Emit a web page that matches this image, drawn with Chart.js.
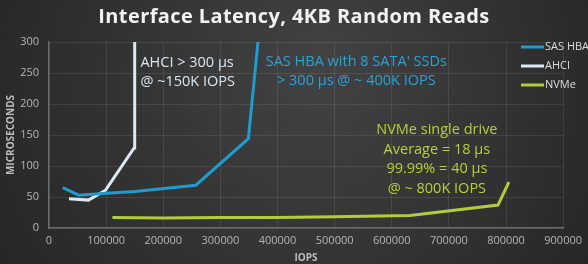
<!DOCTYPE html>
<html><head><meta charset="utf-8">
<script src="https://cdn.jsdelivr.net/npm/chart.js@4/dist/chart.umd.min.js"></script>
<style>html,body{margin:0;padding:0;background:#2c2c2c}#c{display:block}</style>
</head><body>
<canvas id="c" width="588" height="264"></canvas>
<script>
const titleText = "Interface Latency, 4KB Random Reads";
const seriesNames = ["SAS HBA", "AHCI", "NVMe"];
const sasIops = [24000, 52000, 100000, 150000, 257000, 349000, 368000];
const sasLatency = [65, 53, 56, 59, 69, 144, 320];
const ahciIops = [35000, 69000, 99000, 149000, 150000];
const ahciLatency = [47, 45, 61, 129, 320];
const nvmeIops = [111000, 200000, 300000, 400000, 500000, 632000, 786000, 805000];
const nvmeLatency = [17, 16, 17, 17, 18, 20, 37, 74];
const xTicks = [0,100000,200000,300000,400000,500000,600000,700000,800000,900000];
const yTicks = [0,50,100,150,200,250,300];
const notes = [
  {lines:["AHCI > 300 µs","@ ~150K IOPS"], x:160000, y:267, align:"left", color:"#d9e6ef"},
  {lines:["SAS HBA with 8 SATA' SSDs","> 300 µs @ ~ 400K IOPS"], x:538000, y:268, align:"center", color:"#2ba2d8"},
  {lines:["NVMe single drive","Average = 18 µs","99.99% = 40 µs","@ ~ 800K IOPS"], x:679000, y:158, align:"center", color:"#b6cf3e"}
];
const colors = ["#1f9ccf","#dbe9f4","#b2cc3c"];

const pts = (xs, ys) => xs.map((x,i)=>({x, y:ys[i]}));

const bgPlugin = {
  id:'bg',
  beforeDraw(chart){
    const {ctx,width,height} = chart;
    const g = ctx.createRadialGradient(width*0.55, height*0.25, 10, width*0.5, height*0.4, width*0.6);
    g.addColorStop(0,'#424242');
    g.addColorStop(1,'#252525');
    ctx.save(); ctx.fillStyle=g; ctx.fillRect(0,0,width,height); ctx.restore();
  },
  afterDraw(chart){
    const {ctx} = chart;
    const xs = chart.scales.x, ys = chart.scales.y;
    ctx.save();
    ctx.fillStyle = '#f2f2f2';
    ctx.font = 'bold 20px "Open Sans", sans-serif';
    ctx.textAlign = 'center'; ctx.textBaseline = 'middle';
    if ('letterSpacing' in ctx) ctx.letterSpacing = '0.4px';
    ctx.fillText(titleText, 294, 17);
    if ('letterSpacing' in ctx) ctx.letterSpacing = '0px';
    ctx.font = '14.5px "Open Sans", sans-serif';
    notes.forEach(n=>{
      ctx.fillStyle = n.color; ctx.textAlign = n.align;
      const px = xs.getPixelForValue(n.x), py = ys.getPixelForValue(n.y);
      n.lines.forEach((l,i)=>ctx.fillText(l, px, py + i*19.5));
    });
    ctx.font = '11px "Open Sans", sans-serif';
    ctx.textAlign='left';
    seriesNames.forEach((name,i)=>{
      const y = 47 + i*19;
      ctx.strokeStyle = colors[i]; ctx.lineWidth = 3;
      ctx.beginPath(); ctx.moveTo(521,y); ctx.lineTo(544,y); ctx.stroke();
      ctx.fillStyle = '#dddddd';
      ctx.fillText(name, 545, y);
    });
    ctx.restore();
  }
};

const mk = (i, data) => ({label:seriesNames[i], data, borderColor:colors[i], backgroundColor:colors[i], borderWidth:3, pointRadius:0, tension:0, fill:false});

new Chart(document.getElementById('c'), {
  type:'line',
  data:{datasets:[mk(0,pts(sasIops,sasLatency)), mk(1,pts(ahciIops,ahciLatency)), mk(2,pts(nvmeIops,nvmeLatency))]},
  options:{
    responsive:false, animation:false,
    layout:{padding:{left:0,right:20,top:42,bottom:0}},
    plugins:{legend:{display:false}, title:{display:false}, tooltip:{enabled:false}},
    scales:{
      x:{type:'linear', min:0, max:900000,
        afterBuildTicks(s){ s.ticks = xTicks.map(v=>({value:v})); },
        afterFit(s){ s.height = 36; },
        grid:{color:'rgba(255,255,255,0.09)', drawTicks:false},
        border:{color:'#6a6a6a', width:1.5},
        ticks:{color:'#b5b5b5', font:{size:11, family:'"Open Sans", sans-serif'}, padding:6, maxRotation:0, autoSkip:false, callback:v=>String(v)},
        title:{display:true, text:'IOPS', color:'#bdbdbd', font:{size:10, weight:'bold', family:'"Open Sans", sans-serif'}, padding:{top:0,bottom:0}}
      },
      y:{type:'linear', min:0, max:300,
        afterBuildTicks(s){ s.ticks = yTicks.map(v=>({value:v})); },
        afterFit(s){ s.width = 49; },
        grid:{color:'rgba(255,255,255,0.09)', drawTicks:false},
        border:{color:'#6a6a6a', width:1.5},
        ticks:{color:'#b5b5b5', font:{size:11, family:'"Open Sans", sans-serif'}, padding:10},
        title:{display:true, text:'MICROSECONDS', color:'#bdbdbd', font:{size:10, weight:'bold', family:'"Open Sans", sans-serif'}, padding:{top:5,bottom:0}}
      }
    }
  },
  plugins:[bgPlugin]
});
</script>
</body></html>
